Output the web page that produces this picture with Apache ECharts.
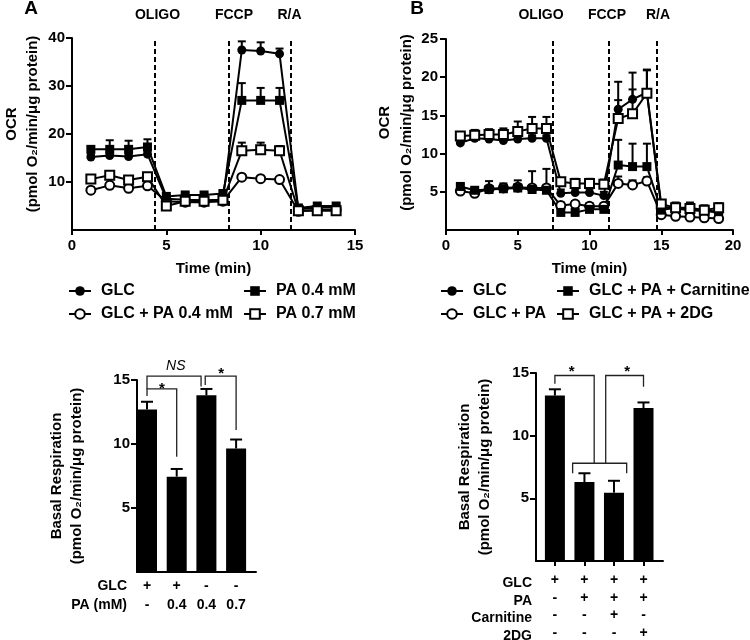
<!DOCTYPE html>
<html><head><meta charset="utf-8">
<script src="https://cdn.jsdelivr.net/npm/echarts@6/dist/echarts.min.js"></script>
<style>html,body{margin:0;padding:0;background:#fff}#c{width:750px;height:640px}</style>
</head><body><div id="c"></div>
<script>
const FONT = '"Liberation Sans", Arial, Helvetica, sans-serif';

// ---------- Panel A: OCR time course ----------
const timeA = [1,2,3,4,5,6,7,8,9,10,11,12,13,14];
const glcA        = [15.2,15.5,15.3,15.8, 6.5,6.3,6.2,6.3, 37.5,37.3,36.7, 4.3,4.7,4.7];
const glcAErr     = [0.5,0.6,0.5,0.6, 0.4,0.3,0.3,0.4, 1.8,1.8,1.1, 0.3,0.3,0.3];
const glcPaA      = [8.3,9.3,8.7,9.2, 6.0,5.8,5.8,6.0, 11.0,10.7,10.5, 3.9,4.2,4.2];
const glcPaAErr   = [0.3,0.3,0.3,0.3, 0.3,0.3,0.3,0.3, 0.4,0.4,0.4, 0.2,0.2,0.2];
const pa04A       = [16.8,16.8,16.8,17.3, 7.0,7.3,7.3,7.6, 27.0,27.0,27.0, 4.6,5.0,5.0];
const pa04AErr    = [0.5,1.9,1.8,1.6, 0.4,0.4,0.4,0.5, 3.6,2.6,2.6, 0.3,0.4,0.4];
const pa07A       = [10.6,11.4,10.4,11.1, 5.0,6.0,6.0,6.2, 16.5,16.7,16.5, 4.0,4.0,4.0];
const pa07AErr    = [0.4,0.4,0.4,0.4, 0.3,0.3,0.3,0.3, 1.7,1.5,1.0, 0.2,0.2,0.2];
const injA = [4.4, 8.33, 11.6];

// ---------- Panel B: OCR time course ----------
const timeB = [1,2,3,4,5,6,7,8,9,10,11,12,13,14,15,16,17,18,19];
const glcB        = [11.4,12.0,11.9,11.7,11.9,12.0,12.0, 4.8,4.9,4.9,4.5, 15.8,17.1,18.0, 3.0,2.8,2.6,2.5,2.3];
const glcBErr     = [0.4,0.4,0.4,0.4,0.4,0.4,0.4, 0.5,0.5,0.5,0.5, 3.6,3.5,3.0, 0.5,0.5,0.5,0.5,0.5];
const glcPaB      = [5.1,4.8,5.4,5.5,5.6,5.5,5.5, 3.2,3.4,3.1,3.1, 6.1,5.9,6.4, 2.0,1.8,1.7,1.6,1.5];
const glcPaBErr   = [0.3,0.3,1.0,0.6,0.9,2.2,2.5, 0.4,0.4,0.4,0.4, 0.9,0.6,0.5, 0.3,0.3,0.3,0.3,0.3];
const carnB       = [5.7,5.2,5.3,5.4,5.5,5.3,5.2, 2.3,2.3,2.7,2.7, 8.5,8.3,8.3, 2.6,2.9,2.9,2.6,2.4];
const carnBErr    = [0.3,0.3,0.3,0.3,0.3,0.3,0.3, 0.3,0.3,0.3,0.3, 3.3,3.0,3.0, 0.4,0.7,0.7,0.6,0.5];
const dgB         = [12.3,12.4,12.5,12.5,12.9,13.3,13.3, 6.3,6.1,6.1,6.0, 14.6,15.2,17.9, 3.4,2.9,2.8,2.6,2.9];
const dgBErr      = [0.4,0.7,0.7,0.8,1.3,1.5,1.5, 0.5,0.6,0.6,0.6, 2.4,3.2,3.0, 0.5,0.6,0.6,0.6,0.6];
const injB = [7.46, 11.36, 14.7];

// ---------- Basal respiration bars ----------
const barA = [12.7, 7.45, 13.8, 9.65];
const barAErr = [0.6, 0.6, 0.5, 0.7];
const rowsA = [['GLC', ['+','+','-','-']], ['PA (mM)', ['-','0.4','0.4','0.7']]];
const barB = [13.2, 6.3, 5.45, 12.2];
const barBErr = [0.5, 0.7, 0.95, 0.45];
const rowsB = [['GLC', ['+','+','+','+']], ['PA', ['-','+','+','+']], ['Carnitine', ['-','-','+','-']], ['2DG', ['-','-','-','+']]];

// significance annotations (data units)
const bracketsA = [
  [[0,13.75],[0,14.3],[1,14.3],[1,9.0]],
  [[0,14.3],[0,15.3],[1.82,15.3],[1.82,14.5]],
  [[1.96,14.6],[1.96,15.3],[3,15.3],[3,11.1]]
];
const marksA = [[0.5,14.3,'*'],[0.97,16.1,'NS'],[2.5,15.45,'*']];
const bracketsB = [
  [[0,14.15],[0,14.8],[1.33,14.8],[1.33,7.8]],
  [[0.6,7.0],[0.6,7.8],[2.43,7.8],[2.43,7.0]],
  [[1.72,7.8],[1.72,14.8],[3,14.8],[3,13.9]]
];
const marksB = [[0.57,15.1,'*'],[2.45,15.1,'*']];

// ---------- helpers ----------
const BLACK = '#000';
const AX_LINE = {show:true, onZero:false, lineStyle:{color:BLACK, width:2}};
const TXT = {color:BLACK, fontFamily:FONT, fontWeight:'bold', fontSize:15};

function lineSeries(name, idx, xs, ys, symbol, marks){
  const empty = symbol.indexOf('empty') === 0;
  const s = {name, type:'line', xAxisIndex:idx, yAxisIndex:idx,
    data: xs.map((x,i)=>[x, ys[i]]), symbol, symbolSize:9, showAllSymbol:true,
    color:BLACK, lineStyle:{color:BLACK, width:2},
    itemStyle:{color:BLACK, borderColor:BLACK, borderWidth: empty ? 2 : 0},
    z:4, animation:false, silent:true};
  if (marks) {
    s.markLine = {symbol:['none','none'], silent:true, animation:false,
      lineStyle:{color:BLACK, width:2, type:[5,3]}, label:{show:false},
      data: marks.map(v=>({xAxis:v}))};
  }
  return s;
}
function errSeries(xi, yi, xs, ys, errs, cap){
  return {type:'custom', xAxisIndex:xi, yAxisIndex:yi, z:3, silent:true, animation:false,
    data: xs.map((x,i)=>[x, ys[i], errs[i]]), encode:{x:0, y:1},
    renderItem(params, api){
      const x = api.value(0), y = api.value(1), e = api.value(2);
      const a = api.coord([x,y]), b = api.coord([x,y+e]);
      return {type:'group', children:[
        {type:'line', shape:{x1:a[0],y1:a[1],x2:b[0],y2:b[1]}, style:{stroke:BLACK, lineWidth:2}},
        {type:'line', shape:{x1:b[0]-cap,y1:b[1],x2:b[0]+cap,y2:b[1]}, style:{stroke:BLACK, lineWidth:2}}
      ]};
    }};
}
function bracketSeries(xi, yi, brackets){
  return {type:'custom', xAxisIndex:xi, yAxisIndex:yi, z:5, silent:true, animation:false,
    data: brackets.map((b,i)=>[b[0][0], b[0][1], i]), encode:{x:0, y:1},
    renderItem(params, api){
      const b = brackets[api.value(2)];
      return {type:'polyline', shape:{points: b.map(p=>api.coord(p))},
        style:{stroke:'#222', lineWidth:1.3, fill:null}};
    }};
}
function markSeries(xi, yi, marks){
  return {type:'custom', xAxisIndex:xi, yAxisIndex:yi, z:5, silent:true, animation:false,
    data: marks.map((m,i)=>[m[0], m[1], i]), encode:{x:0, y:1},
    renderItem(params, api){
      const m = marks[api.value(2)];
      const p = api.coord([m[0], m[1]]);
      const ns = m[2] !== '*';
      return {type:'text', x:p[0], y:p[1], style:{text:m[2], fill:BLACK, fontFamily:FONT,
        fontSize: ns ? 14 : 15, fontWeight: ns ? 'normal' : 'bold', fontStyle: ns ? 'italic' : 'normal',
        align:'center', verticalAlign:'middle'}};
    }};
}
function rowAxes(gridIndex, min, max, rows, margin, step, tickShow){
  return rows.map((r,k)=>({
    gridIndex, type:'value', position:'bottom', min, max, offset: Math.round(k*step),
    axisLine: k===0 ? AX_LINE : {show:false},
    axisTick: {show: k===0 && tickShow, length:5, customValues:[0,1,2,3], lineStyle:{color:BLACK, width:2}},
    splitLine:{show:false},
    axisLabel: Object.assign({}, TXT, {fontSize:14, customValues:[0,1,2,3], margin, verticalAlign:'top',
      formatter: v => r[1][Math.round(v)]})
  }));
}
function rowTitles(rows, right, y0, step){
  return rows.map((r,k)=>({type:'text', x:right, y:y0 + k*step,
    style:{text:r[0], fill:BLACK, fontFamily:FONT, fontWeight:'bold', fontSize:14, align:'right', verticalAlign:'middle'}}));
}

const legendCommon = {padding:0, itemWidth:22, itemHeight:12, itemGap:0, selectedMode:false,
  textStyle: Object.assign({}, TXT, {fontSize:16, padding:[0,0,0,5]})};
function lg(name, left, top){ return Object.assign({data:[name], left, top}, legendCommon); }
function label(text, x, y, size){
  return {type:'text', x, y, style:{text, fill:BLACK, fontFamily:FONT, fontWeight:'bold', fontSize:size, align:'center', verticalAlign:'middle'}};
}

const xAxes = [
  {gridIndex:0, type:'value', min:0, max:15, interval:5, axisLine:AX_LINE,
   axisTick:{show:true, length:5, lineStyle:{color:BLACK, width:2}}, splitLine:{show:false},
   axisLabel:Object.assign({}, TXT, {margin:8}),
   name:'Time (min)', nameLocation:'middle', nameGap:31, nameTextStyle:Object.assign({}, TXT)},
  {gridIndex:1, type:'value', min:0, max:20, interval:5, axisLine:AX_LINE,
   axisTick:{show:true, length:5, lineStyle:{color:BLACK, width:2}}, splitLine:{show:false},
   axisLabel:Object.assign({}, TXT, {margin:8}),
   name:'Time (min)', nameLocation:'middle', nameGap:31, nameTextStyle:Object.assign({}, TXT)}
];
const xBarA = xAxes.length;
xAxes.push(...rowAxes(2, -0.337, 3.67, rowsA, 7, 19, false));
const xBarB = xAxes.length;
xAxes.push(...rowAxes(3, -0.64, 3.66, rowsB, 12, 17.7, true));

const option = {
  animation:false,
  backgroundColor:'#fff',
  grid:[
    {left:67, top:38, width:288, height:192},
    {left:446, top:39, width:287, height:191},
    {left:137, top:380, width:119, height:192},
    {left:536, top:373, width:127, height:193}
  ],
  xAxis: xAxes,
  yAxis:[
    {gridIndex:0, type:'value', min:0, max:40, interval:10, axisLine:AX_LINE,
     axisTick:{show:true, length:6, customValues:[10,20,30,40], lineStyle:{color:BLACK, width:2}},
     splitLine:{show:false}, axisLabel:Object.assign({}, TXT, {margin:7, customValues:[10,20,30,40]}),
     name:'OCR\n(pmol O₂/min/μg protein)', nameLocation:'middle', nameGap:29,
     nameTextStyle:Object.assign({}, TXT, {lineHeight:21, padding:[0,0,0,20]})},
    {gridIndex:1, type:'value', min:0, max:25, interval:5, axisLine:AX_LINE,
     axisTick:{show:true, length:6, customValues:[5,10,15,20,25], lineStyle:{color:BLACK, width:2}},
     splitLine:{show:false}, axisLabel:Object.assign({}, TXT, {margin:8, customValues:[5,10,15,20,25]}),
     name:'OCR\n(pmol O₂/min/μg protein)', nameLocation:'middle', nameGap:28,
     nameTextStyle:Object.assign({}, TXT, {lineHeight:22, padding:[0,0,0,24]})},
    {gridIndex:2, type:'value', min:0, max:15, interval:5, axisLine:AX_LINE,
     axisTick:{show:true, length:6, customValues:[5,10,15], lineStyle:{color:BLACK, width:2}},
     splitLine:{show:false}, axisLabel:Object.assign({}, TXT, {margin:7, customValues:[5,10,15]}),
     name:'Basal Respiration\n(pmol O₂/min/μg protein)', nameLocation:'middle', nameGap:50,
     nameTextStyle:Object.assign({}, TXT, {lineHeight:20})},
    {gridIndex:3, type:'value', min:0, max:15, interval:5, axisLine:AX_LINE,
     axisTick:{show:true, length:6, customValues:[5,10,15], lineStyle:{color:BLACK, width:2}},
     splitLine:{show:false}, axisLabel:Object.assign({}, TXT, {margin:7, customValues:[5,10,15]}),
     name:'Basal Respiration\n(pmol O₂/min/μg protein)', nameLocation:'middle', nameGap:41,
     nameTextStyle:Object.assign({}, TXT, {lineHeight:20})}
  ],
  legend:[
    lg('GLC', 68, 283), lg('PA 0.4 mM', 243, 283),
    lg('GLC + PA 0.4 mM', 68, 306), lg('PA 0.7 mM', 243, 306),
    lg('GLC', 440, 283), lg('GLC + PA + Carnitine', 556, 283),
    lg('GLC + PA', 440, 306), lg('GLC + PA + 2DG', 556, 306)
  ],
  graphic:[
    label('A', 31, 9, 19), label('B', 417, 9, 19),
    label('OLIGO', 157.5, 15, 14), label('FCCP', 234, 15, 14), label('R/A', 289.5, 15, 14),
    label('OLIGO', 541, 15, 14), label('FCCP', 607, 15, 14), label('R/A', 658, 15, 14),
    ...rowTitles(rowsA, 127, 586, 19),
    ...rowTitles(rowsB, 532, 583, 17.7)
  ],
  series:[
    errSeries(0,0,timeA,glcA,glcAErr,4),
    errSeries(0,0,timeA,glcPaA,glcPaAErr,4),
    errSeries(0,0,timeA,pa04A,pa04AErr,4),
    errSeries(0,0,timeA,pa07A,pa07AErr,4),
    lineSeries('GLC',0,timeA,glcA,'circle',injA),
    lineSeries('GLC + PA 0.4 mM',0,timeA,glcPaA,'emptyCircle'),
    lineSeries('PA 0.4 mM',0,timeA,pa04A,'rect'),
    lineSeries('PA 0.7 mM',0,timeA,pa07A,'emptyRect'),

    errSeries(1,1,timeB,glcB,glcBErr,4),
    errSeries(1,1,timeB,glcPaB,glcPaBErr,4),
    errSeries(1,1,timeB,carnB,carnBErr,4),
    errSeries(1,1,timeB,dgB,dgBErr,4),
    lineSeries('GLC',1,timeB,glcB,'circle',injB),
    lineSeries('GLC + PA',1,timeB,glcPaB,'emptyCircle'),
    lineSeries('GLC + PA + Carnitine',1,timeB,carnB,'rect'),
    lineSeries('GLC + PA + 2DG',1,timeB,dgB,'emptyRect'),

    {type:'bar', xAxisIndex:xBarA, yAxisIndex:2, barWidth:20, z:2, silent:true,
     data: barA.map((v,i)=>[i,v]), itemStyle:{color:BLACK}},
    errSeries(xBarA,2,barA.map((v,i)=>i),barA,barAErr,6),
    bracketSeries(xBarA, 2, bracketsA),
    markSeries(xBarA, 2, marksA),

    {type:'bar', xAxisIndex:xBarB, yAxisIndex:3, barWidth:20, z:2, silent:true,
     data: barB.map((v,i)=>[i,v]), itemStyle:{color:BLACK}},
    errSeries(xBarB,3,barB.map((v,i)=>i),barB,barBErr,6),
    bracketSeries(xBarB, 3, bracketsB),
    markSeries(xBarB, 3, marksB)
  ]
};
const chart = echarts.init(document.getElementById('c'), null, {renderer:'canvas'});
chart.setOption(option);
</script>
</body></html>
